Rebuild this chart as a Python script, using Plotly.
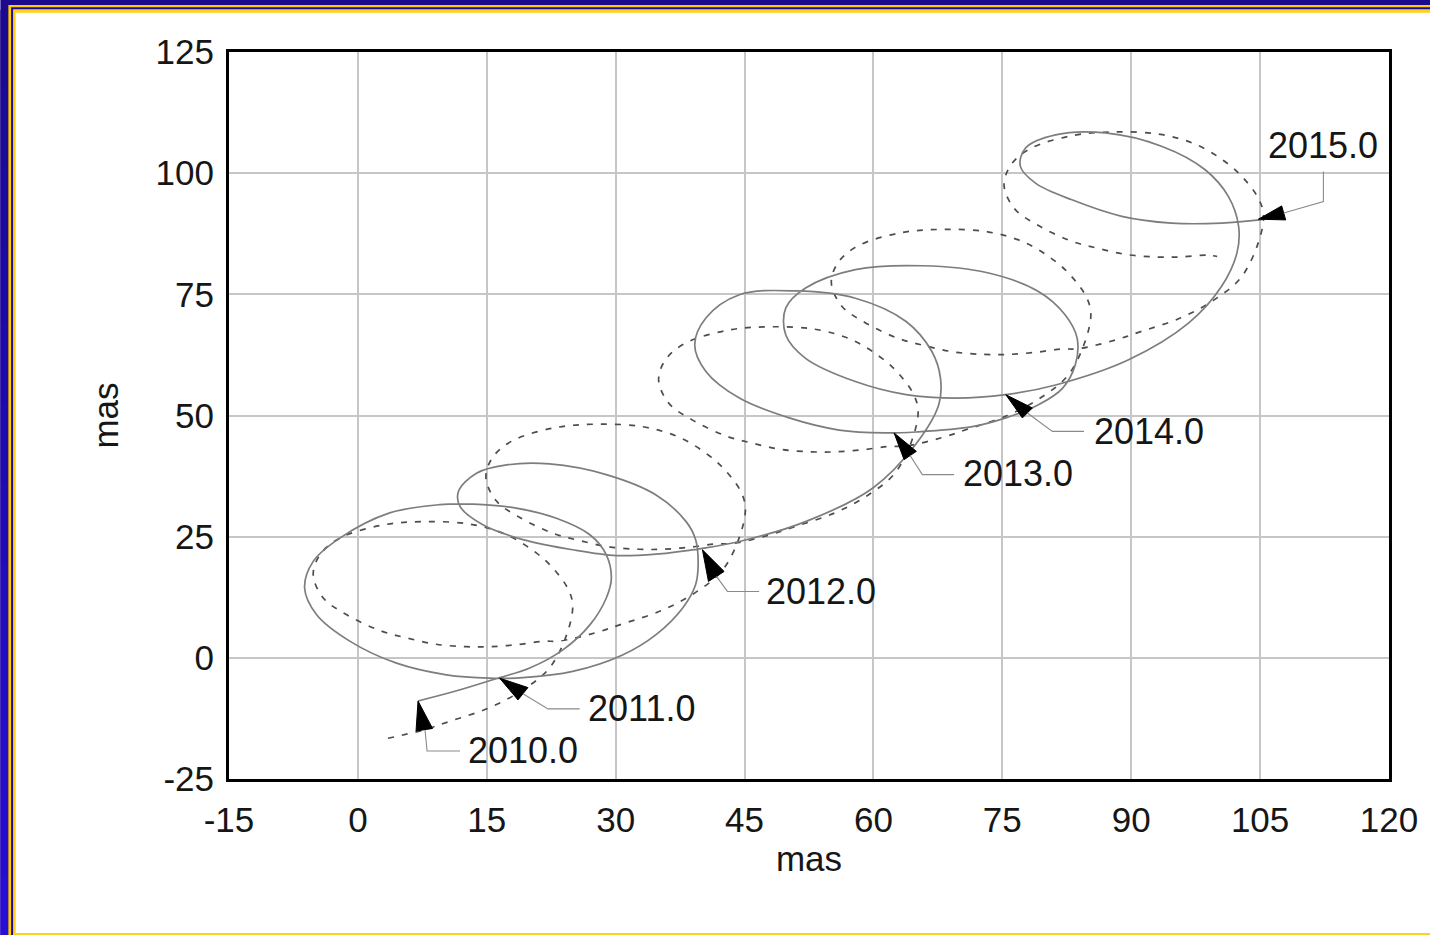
import plotly.graph_objects as go

# ---------------- data (mas) ----------------
solid_x = [7.0, 11.5, 16.1, 20.0, 23.9, 27.0, 28.9, 29.5, 28.9, 27.0, 23.1, 18.4, 13.4, 9.5, 3.7,
           -2.1, -5.2, -6.2, -4.8, -0.9, 4.5, 10.3, 15.3, 19.2, 25.0, 30.8, 34.7, 37.8, 39.3, 39.6,
           39.3, 38.2, 34.7, 28.9, 22.3, 17.3, 13.8, 11.7, 11.9, 14.6, 19.2, 25.0, 30.1, 34.7, 40.1,
           44.4, 52.1, 59.9, 64.9, 67.6, 67.8, 66.8, 63.8, 57.9, 51.0, 44.4, 40.5, 39.2, 40.5, 44.4,
           50.2, 56.0, 61.4, 64.9, 71.5, 75.4, 79.2, 82.0, 83.5, 83.7, 82.3, 79.2, 73.4, 65.7, 57.9,
           52.1, 49.8, 49.8, 52.1, 57.9, 63.8, 69.6, 75.4, 81.2, 89.7, 96.7, 100.5, 102.3, 102.5, 101.3,
           98.6, 93.6, 87.0, 81.2, 77.7, 77.1, 78.9, 83.1, 88.9, 94.7, 100.5, 105.2]
solid_y = [-8.9, -6.8, -4.3, -2.1, 1.7, 6.8, 12.3, 16.4, 21.3, 25.4, 28.8, 30.9, 31.7, 31.6, 29.9,
           24.7, 19.9, 14.4, 8.9, 3.4, -1.1, -3.5, -4.2, -4.1, -2.8, 0.6, 4.8, 10.3, 15.1, 19.2,
           24.4, 28.1, 33.6, 37.8, 40.0, 39.8, 38.1, 34.3, 31.2, 27.4, 24.4, 22.3, 21.1, 21.4, 22.6,
           24.0, 28.1, 35.0, 44.0, 52.2, 57.7, 63.2, 69.4, 74.2, 75.7, 74.9, 70.1, 64.6, 59.1, 53.6,
           49.5, 47.0, 46.4, 46.6, 47.7, 49.5, 52.2, 55.6, 60.5, 66.0, 70.8, 75.6, 79.4, 80.9, 80.1,
           76.3, 72.2, 66.6, 61.8, 57.0, 54.3, 53.6, 54.3, 56.3, 61.5, 69.1, 76.6, 83.5, 89.0, 95.2,
           100.7, 105.5, 108.3, 107.9, 105.2, 101.4, 97.9, 94.5, 91.1, 89.7, 89.7, 90.4]

dashed_x = [3.5, 7.6, 10.7, 15.3, 19.2, 22.3, 24.3, 25.0, 24.4, 22.7, 20.8, 17.3, 13.0, 7.6, 2.9,
            -2.1, -4.4, -5.2, -4.0, -1.3, 2.6, 5.7, 9.1, 12.6, 15.3, 18.4, 21.5,
            23.6, 27.7, 30.8, 35.4, 39.3, 42.4, 44.4, 45.1, 44.5, 42.8, 40.9, 37.4, 33.1, 27.7, 23.0,
            18.0, 15.7, 14.9, 16.1, 18.8, 22.7, 25.8, 29.2, 32.7, 35.4, 38.5, 41.6,
            43.7, 47.8, 50.9, 55.5, 59.4, 62.5, 64.5, 65.2, 64.6, 62.9, 61.0, 57.5, 53.2, 47.8, 43.1,
            38.1, 35.8, 35.0, 36.2, 38.9, 42.8, 45.9, 49.3, 52.8, 55.5, 58.6, 61.7,
            63.8, 67.9, 71.0, 75.6, 79.5, 82.6, 84.6, 85.3, 84.7, 83.0, 81.1, 77.6, 73.3, 67.9, 63.2,
            58.2, 55.9, 55.1, 56.3, 59.0, 62.9, 66.0, 69.4, 72.9, 75.6, 78.7, 81.8,
            83.9, 88.0, 91.1, 95.7, 99.6, 102.7, 104.7, 105.4, 104.8, 103.1, 101.2, 97.7, 93.4, 88.0, 83.3,
            78.3, 76.0, 75.2, 76.4, 79.1, 83.0, 86.1, 89.5, 93.0, 95.7, 98.8, 100.0]
dashed_y = [-16.6, -14.9, -13.1, -10.3, -6.6, -2.1, 4.8, 10.9, 14.4, 18.5, 21.6, 25.4, 27.6, 28.1, 27.4,
            24.7, 21.3, 17.1, 12.3, 8.9, 5.6, 4.1, 2.8, 2.3, 2.3, 2.7, 3.4,
            3.5, 5.2, 7.0, 9.8, 13.5, 18.0, 24.9, 31.0, 34.5, 38.6, 41.7, 45.5, 47.7, 48.2, 47.5,
            44.8, 41.4, 37.2, 32.4, 29.0, 25.7, 24.2, 22.9, 22.4, 22.4, 22.8, 23.5,
            23.6, 25.3, 27.1, 29.9, 33.6, 38.1, 45.0, 51.1, 54.6, 58.7, 61.8, 65.6, 67.8, 68.3, 67.6,
            64.9, 61.5, 57.3, 52.5, 49.1, 45.8, 44.3, 43.0, 42.5, 42.5, 42.9, 43.6,
            43.7, 45.4, 47.2, 50.0, 53.7, 58.2, 65.1, 71.2, 74.7, 78.8, 81.9, 85.7, 87.9, 88.4, 87.7,
            85.0, 81.6, 77.4, 72.6, 69.2, 65.9, 64.4, 63.1, 62.6, 62.6, 63.0, 63.7,
            63.8, 65.5, 67.3, 70.1, 73.8, 78.3, 85.2, 91.3, 94.8, 98.9, 102.0, 105.8, 108.0, 108.5, 107.8,
            105.1, 101.7, 97.5, 92.7, 89.3, 86.0, 84.5, 83.2, 82.7, 82.7, 83.1, 82.8]

year_labels = ["2010.0", "2011.0", "2012.0", "2013.0", "2014.0", "2015.0"]
year_x = [7.0, 16.5, 40.1, 62.4, 75.4, 104.8]
year_y = [-8.9, -4.2, 22.3, 46.4, 54.3, 90.5]

x_ticks = [-15, 0, 15, 30, 45, 60, 75, 90, 105, 120]
y_ticks = [-25, 0, 25, 50, 75, 100, 125]

# ---------------- callout geometry (screen pixel offsets from tip, y down) ----------------
callouts = [
    dict(tri=[(-2, 30), (14.5, 27.5)], lead=[(7, 29), (9, 50), (42, 50)], lab=(48, 50, "left")),
    dict(tri=[(18.3, 21.7), (28.3, 9.4)], lead=[(23.3, 15.5), (48.3, 30.7), (80, 30.7)], lab=(86, 30.7, "left")),
    dict(tri=[(6, 31.7), (21.7, 21.7)], lead=[(14, 26.7), (25, 41.7), (56.7, 41.7)], lab=(62, 41.7, "left")),
    dict(tri=[(10, 26.7), (22.3, 18.4)], lead=[(16, 22.5), (28.3, 41.7), (60, 41.7)], lab=(67, 40.5, "left")),
    dict(tri=[(16.6, 23.3), (26.6, 13.3)], lead=[(21.6, 18.3), (46.6, 36.7), (78.3, 36.7)], lab=(86, 36.7, "left")),
    dict(tri=[(23.3, -13.3), (27.3, 0.7)], lead=[(25.3, -6.3), (65, -17.6), (65, -47.6)], lab=(65, -74, "center")),
]

FONT = "Liberation Sans, Arial, sans-serif"
W, H = 1430, 935
L, R, T, B = 229, 1391, 52, 779

fig = go.Figure()
fig.add_trace(go.Scatter(x=dashed_x, y=dashed_y, mode="lines",
                         line=dict(color="#4d4d4d", width=1.7, dash="6px,8px", shape="spline", smoothing=1.0),
                         hoverinfo="skip", showlegend=False))
fig.add_trace(go.Scatter(x=solid_x, y=solid_y, mode="lines",
                         line=dict(color="#7d7d7d", width=1.7, shape="spline", smoothing=1.0),
                         hoverinfo="skip", showlegend=False))

shapes = []


def pp(px, py):
    return (px - L) / (R - L), (B - py) / (B - T)


def rect(x0, y0, x1, y1, color):
    a = pp(x0, y1)
    b = pp(x1, y0)
    shapes.append(dict(type="rect", xref="paper", yref="paper", x0=a[0], y0=a[1], x1=b[0], y1=b[1],
                       fillcolor=color, line=dict(width=0), layer="below"))


# frame border
rect(0, 0, 1440, 945, "#1b098e")
n = 12
for i in range(n):
    t = i / (n - 1)
    c = "rgb(%d,%d,%d)" % (27 + 15 * t, 9 + 4 * t, 142 + 70 * t)
    rect(0, 945 * i / n + 10, 8, 945 * (i + 1) / n + 10, c)
rect(8, 5, 1440, 945, "#ffcc00")
rect(10.7, 7.3, 1440, 945, "#1f0aa0")
rect(12.7, 9.3, 1440, 945, "#ffd21a")
rect(15.3, 12.7, 1440, 933, "#ffffff")

annotations = []
for lab, tx, ty, c in zip(year_labels, year_x, year_y, callouts):
    (ax1, ay1), (ax2, ay2) = c["tri"]
    shapes.append(dict(type="path", xref="x", yref="y", xsizemode="pixel", ysizemode="pixel",
                       xanchor=tx, yanchor=ty,
                       path="M0,0 L%g,%g L%g,%g Z" % (ax1, -ay1, ax2, -ay2),
                       fillcolor="black", line=dict(color="black", width=1), layer="above"))
    pts = c["lead"]
    path = "M%g,%g" % (pts[0][0], -pts[0][1]) + "".join(" L%g,%g" % (p[0], -p[1]) for p in pts[1:])
    shapes.append(dict(type="path", xref="x", yref="y", xsizemode="pixel", ysizemode="pixel",
                       xanchor=tx, yanchor=ty, path=path,
                       line=dict(color="#8a8a8a", width=1.1), layer="above"))
    lx, ly, anc = c["lab"]
    annotations.append(dict(x=tx, y=ty, xref="x", yref="y", text=lab, showarrow=False,
                            xanchor=anc, yanchor="middle", xshift=lx, yshift=-ly,
                            font=dict(family=FONT, size=36, color="#161616")))

fig.update_layout(
    width=W, height=H,
    margin=dict(l=L, r=W - R, t=T, b=H - B, pad=0),
    paper_bgcolor="white", plot_bgcolor="white",
    shapes=shapes, annotations=annotations,
    showlegend=False, hovermode=False,
    font=dict(family=FONT, color="#161616"),
)
fig.update_xaxes(range=[-15, 120], tickvals=x_ticks, ticktext=[str(v) for v in x_ticks],
                 showgrid=True, gridcolor="#c6c6c6", gridwidth=1.6, zeroline=False,
                 showline=True, mirror=True, linecolor="black", linewidth=3,
                 ticks="outside", ticklen=8, tickcolor="rgba(0,0,0,0)",
                 tickfont=dict(family=FONT, size=35, color="#161616"),
                 title=dict(text="mas", font=dict(family=FONT, size=35, color="#161616"), standoff=9))
fig.update_yaxes(range=[-25, 125], tickvals=y_ticks, ticktext=[str(v) for v in y_ticks],
                 showgrid=True, gridcolor="#c6c6c6", gridwidth=1.6, zeroline=False,
                 showline=True, mirror=True, linecolor="black", linewidth=3,
                 ticks="outside", ticklen=5, tickcolor="rgba(0,0,0,0)",
                 tickfont=dict(family=FONT, size=35, color="#161616"),
                 title=dict(text="mas", font=dict(family=FONT, size=35, color="#161616"), standoff=27))

fig.write_html("out.html", config={"displayModeBar": False},
               post_script="document.body.style.margin='0px';document.body.style.overflow='hidden';")
